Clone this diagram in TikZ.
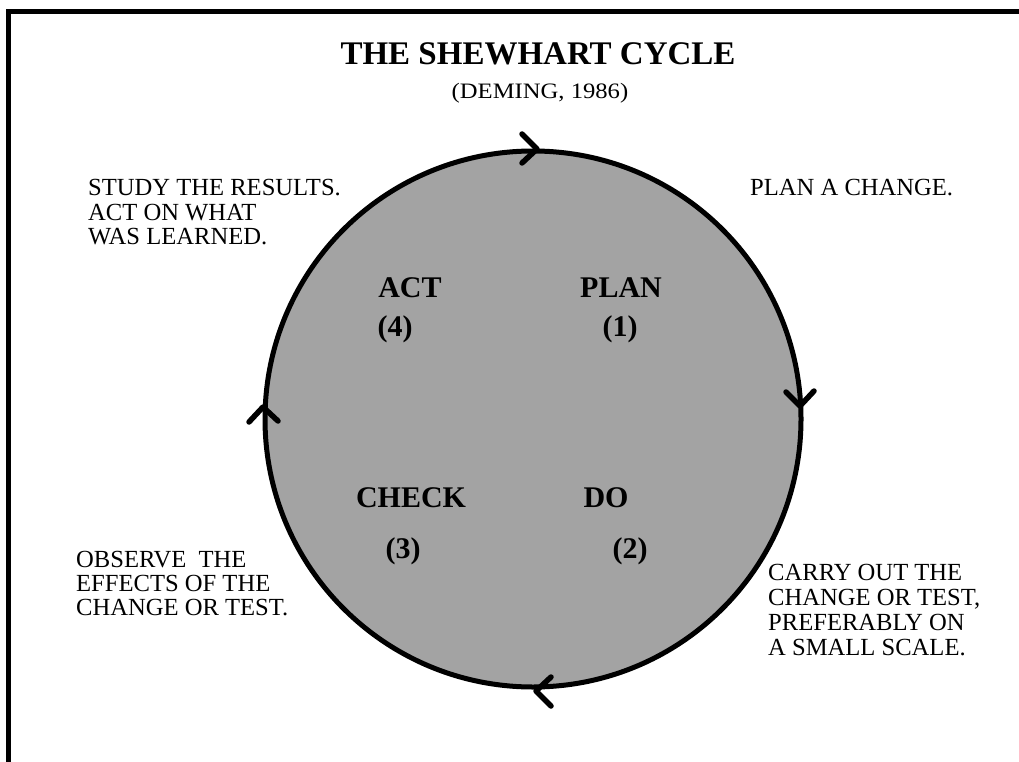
\documentclass[tikz,border=0pt]{standalone}
\usepackage{fontspec}
\usepackage{graphicx}
\setmainfont{Liberation Serif}
\usetikzlibrary{calc}
\begin{document}
\begin{tikzpicture}[x=1pt,y=-1pt,
  frame/.style={line width=5pt},
  cyclebox/.style={circle, draw, line width=5pt, fill=black!36, minimum size=536pt, inner sep=0pt},
  barb/.style={line width=5.5pt, line cap=round, line join=round},
  body/.style={font=\fontsize{24.6}{24.6}\selectfont, inner sep=0pt, anchor=base west},
  stage/.style={font=\bfseries\fontsize{30}{30}\selectfont, inner sep=0pt, anchor=base},
  title/.style={font=\bfseries\fontsize{33}{33}\selectfont, inner sep=0pt, anchor=base},
  sub/.style={font=\fontsize{22}{22}\selectfont, inner sep=0pt, anchor=base}]
\useasboundingbox (0,0) rectangle (1019,762);
% frame
\coordinate (fr1) at (8.5,770);
\coordinate (fr2) at (8.5,12);
\coordinate (fr3) at (1030,12);
\draw[frame] (fr1) -- (fr2) -- (fr3);
% cycle
\node[cyclebox] (cyc) at (533,419) {};
% arrowheads (clockwise)
\coordinate (tT) at (537,149);
\draw[barb] ($(tT)+(-15,-15)$) -- (tT) -- ($(tT)+(-15,14)$);
\coordinate (tR) at (800,406);
\draw[barb] ($(tR)+(-14,-14)$) -- (tR) -- ($(tR)+(14,-15)$);
\coordinate (tB) at (536,691);
\draw[barb] ($(tB)+(15,-14)$) -- (tB) -- ($(tB)+(15,15)$);
\coordinate (tL) at (263,407);
\draw[barb] ($(tL)+(-14,15)$) -- (tL) -- ($(tL)+(15,14)$);
% title
\node[title] (ttl) at (538,65) {THE SHEWHART CYCLE};
\node[sub] (dem) at (540,99) {\scalebox{1.12}[1]{(DEMING, 1986)}};
% stages
\node[stage] (act) at (410,297) {ACT};
\node[stage] (n4) at (395,336) {(4)};
\node[stage] (plan) at (621,297) {PLAN};
\node[stage] (n1) at (620,336) {(1)};
\node[stage] (check) at (411,507) {CHECK};
\node[stage] (n3) at (403,558) {(3)};
\node[stage] (do) at (606,507) {DO};
\node[stage] (n2) at (630,558) {(2)};
% corner texts
\node[body] (s1) at (88,196) {STUDY THE RESULTS.};
\node[body] (s2) at (88,220) {ACT ON WHAT};
\node[body] (s3) at (88,244) {WAS LEARNED.};
\node[body] (p1) at (750,196) {PLAN A CHANGE.};
\node[body] (o1) at (76,567) {OBSERVE\ \ THE};
\node[body] (o2) at (76,591) {EFFECTS OF THE};
\node[body] (o3) at (76,615) {CHANGE OR TEST.};
\node[body] (c1) at (768,580) {CARRY OUT THE};
\node[body] (c2) at (768,605) {CHANGE OR TEST,};
\node[body] (c3) at (768,630) {PREFERABLY ON};
\node[body] (c4) at (768,655) {A SMALL SCALE.};
\end{tikzpicture}
\end{document}
